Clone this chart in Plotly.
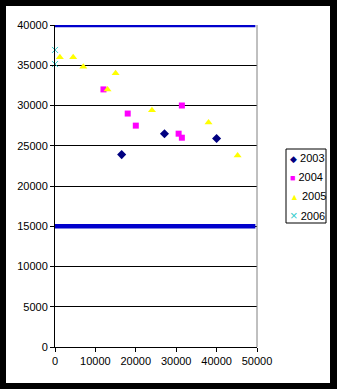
import plotly.graph_objects as go

# Scatter series by year
x_2003 = [16500, 27100, 40000]
y_2003 = [23900, 26500, 25900]

x_2004 = [12000, 18000, 20000, 31400, 30600, 31400]
y_2004 = [32000, 29000, 27500, 30000, 26500, 26000]

x_2005 = [1200, 4500, 7000, 13000, 15000, 24000, 38000, 45200]
y_2005 = [36000, 36000, 34800, 32000, 34000, 29400, 27900, 23800]

x_2006 = [0, 0]
y_2006 = [36900, 35150]

# Limit lines
limit_x = [0, 49600]
upper_limit = [40000, 40000]
lower_limit = [15000, 15000]

x_ticks = [0, 10000, 20000, 30000, 40000, 50000]
y_ticks = [0, 5000, 10000, 15000, 20000, 25000, 30000, 35000, 40000]

years = ["2003", "2004", "2005", "2006"]
colors = ["#000080", "#ff00ff", "#ffff00", "#33cccc"]
symbols = ["diamond", "square", "triangle-up", "x-thin"]
sizes = [7, 6, 7, 6]
glyphs = ["\u25c6", "\u25a0", "\u25b2", "\u00d7"]
series = [(x_2003, y_2003), (x_2004, y_2004), (x_2005, y_2005), (x_2006, y_2006)]

# plot area in pixels
W, H = 337, 389
ML, MR, MT, MB = 55, 80, 25, 42
PW, PH = W - ML - MR, H - MT - MB


def px(xp):
    return (xp - ML) / PW


def py(yp):
    return 1 - (yp - MT) / PH


fig = go.Figure()

for yv in (upper_limit, lower_limit):
    fig.add_trace(go.Scatter(
        x=limit_x, y=yv, mode="lines",
        line=dict(color="#0000cc", width=4.5),
        showlegend=False, cliponaxis=False, hoverinfo="skip"))

for (xs, ys), name, col, sym, sz in zip(series, years, colors, symbols, sizes):
    fig.add_trace(go.Scatter(
        x=xs, y=ys, mode="markers", name=name, showlegend=False,
        marker=dict(symbol=sym, size=sz, color=col,
                    line=dict(color=col, width=1 if sym == "x-thin" else 0)),
        cliponaxis=False))

# compact legend box
annotations = []
for i, (name, col, g) in enumerate(zip(years, colors, glyphs)):
    gsize = 13 if g == "\u00d7" else 9
    annotations.append(dict(
        xref="paper", yref="paper", x=px(287.5), y=py(158 + 19 * i),
        xanchor="left", yanchor="middle", showarrow=False,
        text=f"<span style='color:{col};font-size:{gsize}px'>{g}</span> {name}",
        font=dict(size=11, color="black")))

fig.update_layout(
    width=W, height=H,
    margin=dict(l=ML, r=MR, t=MT, b=MB, autoexpand=False),
    paper_bgcolor="black",
    plot_bgcolor="white",
    font=dict(family="Arial, Liberation Sans, sans-serif", size=11, color="black"),
    showlegend=False,
    annotations=annotations,
    shapes=[
        # white chart area inside the black frame
        dict(type="rect", xref="paper", yref="paper",
             x0=px(6), x1=px(330), y0=py(383), y1=py(6),
             fillcolor="white", line=dict(width=0), layer="below"),
        # right border of plot area
        dict(type="line", xref="paper", yref="paper",
             x0=1, x1=1, y0=0, y1=1, line=dict(color="#808080", width=1)),
        # legend frame
        dict(type="rect", xref="paper", yref="paper",
             x0=px(286), x1=px(326), y0=py(223), y1=py(149),
             fillcolor="white", line=dict(color="black", width=1)),
    ],
)

fig.update_xaxes(
    range=[0, 50000], tickvals=x_ticks, ticktext=[str(v) for v in x_ticks],
    showgrid=False, zeroline=False, showline=True, linecolor="black", linewidth=1,
    ticks="outside", ticklen=4, tickcolor="black",
)
fig.update_yaxes(
    range=[0, 40000], tickvals=y_ticks, ticktext=[str(v) for v in y_ticks],
    showgrid=True, gridcolor="black", gridwidth=1, zeroline=False,
    showline=True, linecolor="black", linewidth=1,
    ticks="outside", ticklen=4, tickcolor="black",
)

fig.write_html("out.html")
